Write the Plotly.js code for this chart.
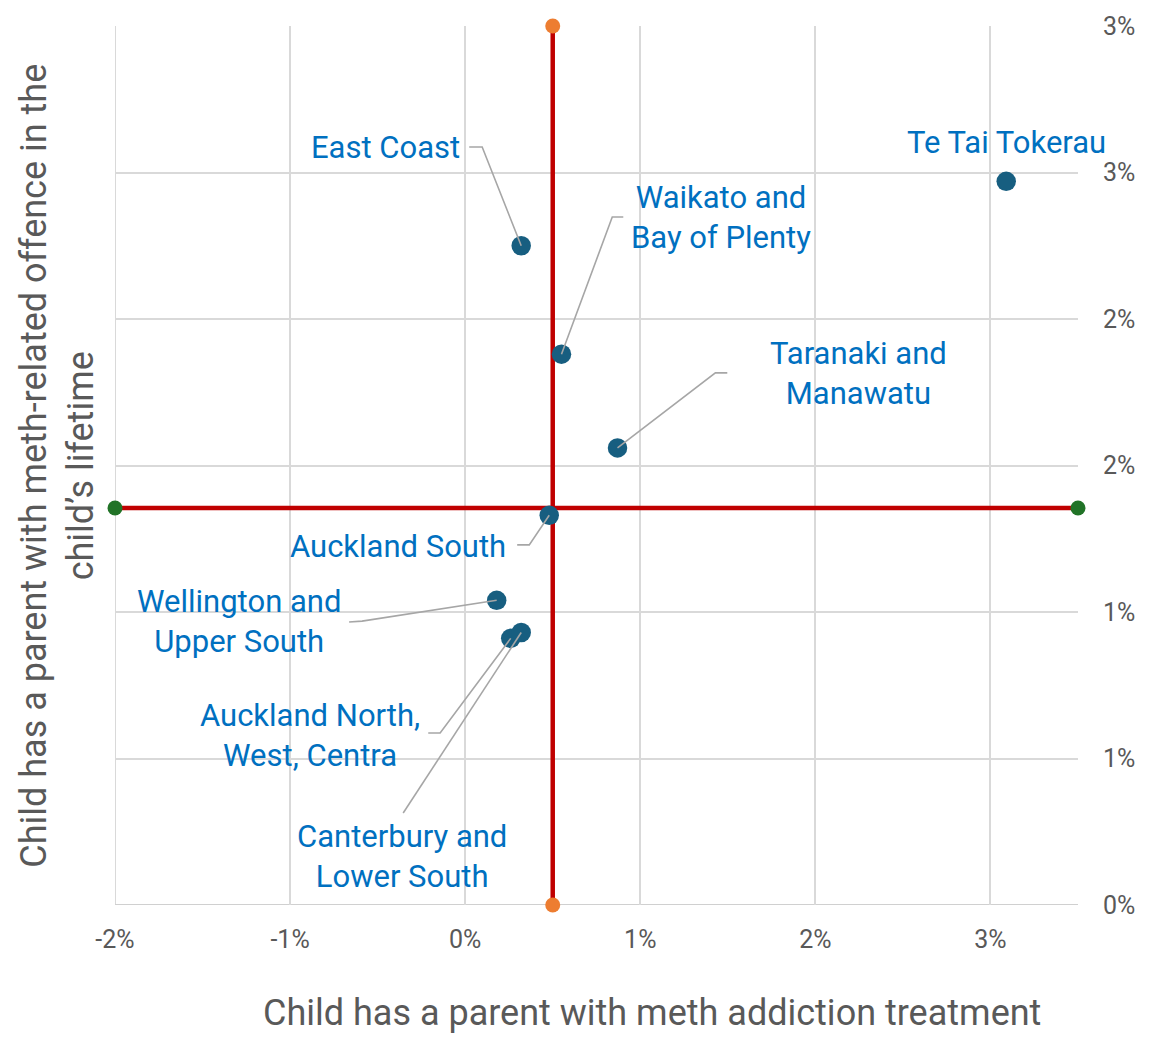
<!DOCTYPE html>
<html>
<head>
<meta charset="utf-8">
<script src="https://cdn.plot.ly/plotly-3.0.1.min.js"></script>
<style>
html,body{margin:0;padding:0;background:#fff;}
#chart{width:1152px;height:1039px;}
</style>
</head>
<body>
<div id="chart"></div>
<script>
// ---- Data (percent units) ----
const regions = ["East Coast","Waikato and Bay of Plenty","Te Tai Tokerau","Taranaki and Manawatu","Auckland South","Wellington and Upper South","Auckland North, West, Centra","Canterbury and Lower South"];
const labelText = ["East Coast","Waikato and<br>Bay of Plenty","Te Tai Tokerau","Taranaki and<br>Manawatu","Auckland South","Wellington and<br>Upper South","Auckland North,<br>West, Centra","Canterbury and<br>Lower South"];
const treatment = [0.32, 0.55, 3.09, 0.87, 0.48, 0.18, 0.26, 0.32];
const offence   = [2.25, 1.88, 2.47, 1.56, 1.33, 1.04, 0.91, 0.93];

// reference lines
const avgTreatment = 0.5;
const avgOffence = 1.355;

// ticks
const xTickVals = [-2, -1, 0, 1, 2, 3];
const xTickText = ["-2%", "-1%", "0%", "1%", "2%", "3%"];
const yTickVals = [0, 0.5, 1, 1.5, 2, 2.5, 3];
const yTickText = ["0%", "1%", "1%", "2%", "2%", "3%", "3%"];

// axis ranges
const xRange = [-2, 3.5];
const yRange = [0, 3];

// ---- Label layout (data coords) ----
const labelX = [-0.017, 1.463, 3.091, 2.246, 0.246, -1.291, -0.886, -0.36];
const labelY = [2.584, 2.346, 2.601, 1.814, 1.225, 0.966, 0.580, 0.164];
const labelAnchor = ["right","center","center","center","right","center","center","center"];
// leader lines: start and elbow (null = no leader)
const leadStartX = [0.023, 0.903, null, 1.497, 0.297, -0.663, -0.211, -0.354];
const leadStartY = [2.587, 2.348, null, 1.816, 1.229, 0.966, 0.587, 0.314];
const leadElbowX = [0.097, 0.840, null, 1.429, 0.366, -0.589, -0.143, -0.354];
const leadElbowY = [2.587, 2.348, null, 1.816, 1.229, 0.969, 0.587, 0.314];

const FONT = "Roboto, 'Open Sans', sans-serif";

// build leader path
const lx = [], ly = [];
for (let i = 0; i < regions.length; i++) {
  if (leadStartX[i] === null) continue;
  lx.push(leadStartX[i], leadElbowX[i], treatment[i], null);
  ly.push(leadStartY[i], leadElbowY[i], offence[i], null);
}

const traces = [
  { // vertical average line
    x: [avgTreatment, avgTreatment], y: [yRange[0], yRange[1]],
    mode: "lines+markers", type: "scatter", cliponaxis: false, hoverinfo: "skip",
    line: {color: "#c00000", width: 4.5},
    marker: {color: "#ed7d31", size: 15}
  },
  { // horizontal average line
    x: [xRange[0], xRange[1]], y: [avgOffence, avgOffence],
    mode: "lines+markers", type: "scatter", cliponaxis: false, hoverinfo: "skip",
    line: {color: "#c00000", width: 4.5},
    marker: {color: "#217327", size: 15}
  },
  { // regions
    x: treatment, y: offence, text: regions,
    mode: "markers", type: "scatter", cliponaxis: false,
    marker: {color: "#175e80", size: 19.5}
  },
  { // leader lines
    x: lx, y: ly, mode: "lines", type: "scatter", hoverinfo: "skip",
    line: {color: "#a6a6a6", width: 1.6}, connectgaps: false
  }
];

const annotations = labelText.map((t, i) => ({
  text: t, x: labelX[i], y: labelY[i], xref: "x", yref: "y",
  xanchor: labelAnchor[i], yanchor: "middle", align: "center", showarrow: false,
  font: {family: FONT, size: 31, color: "#0070c0"}
}));

annotations.push({
  text: "Child has a parent with meth-related offence in the<br>child’s lifetime",
  xref: "paper", yref: "paper", x: -0.060, y: 0.5, xanchor: "center", yanchor: "middle",
  textangle: -90, showarrow: false, align: "center",
  font: {family: FONT, size: 36, color: "#595959"}
});
annotations.push({
  text: "Child has a parent with meth addiction treatment",
  xref: "paper", yref: "paper", x: 0.5575, y: -0.123, xanchor: "center", yanchor: "middle",
  showarrow: false,
  font: {family: FONT, size: 36, color: "#595959"}
});

const layout = {
  width: 1152, height: 1039,
  margin: {l: 115, r: 74, t: 26, b: 134, pad: 0},
  paper_bgcolor: "#ffffff", plot_bgcolor: "#ffffff",
  showlegend: false,
  font: {family: FONT},
  xaxis: {
    range: xRange, tickvals: xTickVals, ticktext: xTickText,
    showgrid: true, gridcolor: "#d9d9d9", gridwidth: 2,
    zeroline: false, showline: false,
    ticks: "", ticklabelstandoff: 17,
    tickfont: {family: FONT, size: 25, color: "#595959"}
  },
  yaxis: {
    range: yRange, tickvals: yTickVals, ticktext: yTickText, side: "right",
    showgrid: true, gridcolor: "#d9d9d9", gridwidth: 2,
    zeroline: false, showline: false,
    ticks: "", ticklabelstandoff: 24,
    tickfont: {family: FONT, size: 25, color: "#595959"}
  },
  shapes: [
    {type: "line", xref: "x", yref: "paper", x0: xRange[0], x1: xRange[0], y0: 0, y1: 1,
     line: {color: "#d9d9d9", width: 2}, layer: "below"},
    {type: "line", xref: "paper", yref: "y", x0: 0, x1: 1, y0: yRange[0], y1: yRange[0],
     line: {color: "#d0d0d0", width: 2}, layer: "below"}
  ],
  annotations: annotations
};

Plotly.newPlot("chart", traces, layout, {displayModeBar: false, staticPlot: true});
</script>
</body>
</html>
